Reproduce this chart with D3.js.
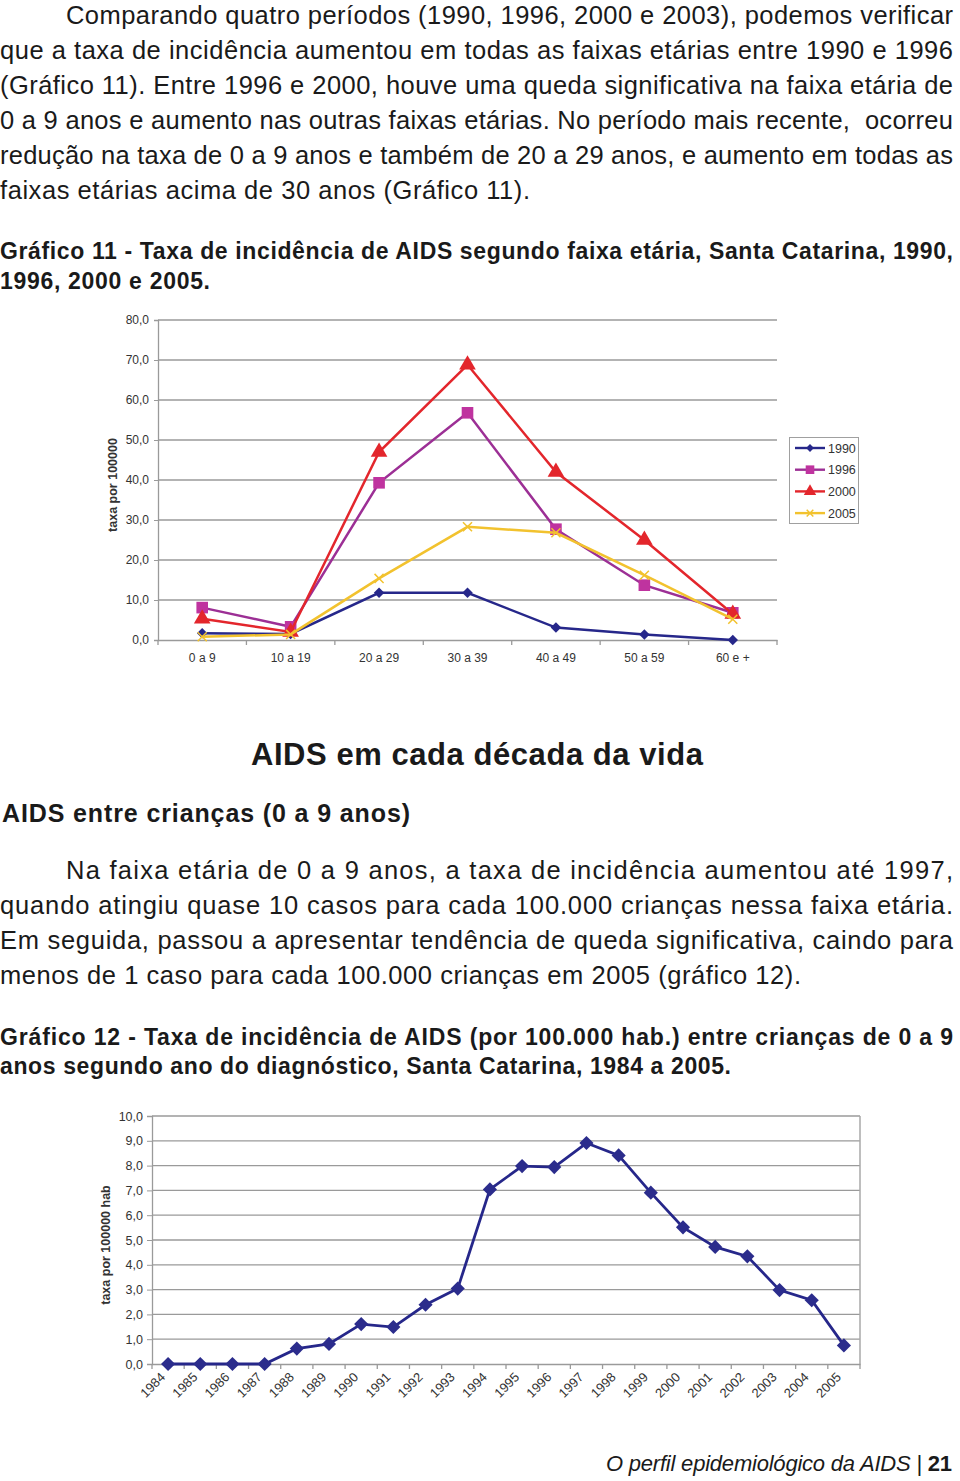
<!DOCTYPE html>
<html>
<head>
<meta charset="utf-8">
<script src="https://cdn.jsdelivr.net/npm/d3@7"></script>
<style>
  html, body { margin: 0; padding: 0; background: #fff; }
  svg { display: block; }
</style>
</head>
<body>
<svg id="page" width="960" height="1481"></svg>
<script>
// ---------- DATA ----------
const ageGroups = ["0 a 9", "10 a 19", "20 a 29", "30 a 39", "40 a 49", "50 a 59", "60 e +"];
const rate1990 = [1.7, 1.5, 11.8, 11.8, 3.1, 1.4, 0.0];
const rate1996 = [8.1, 3.3, 39.3, 56.8, 27.7, 13.7, 6.8];
const rate2000 = [5.3, 2.0, 47.0, 68.8, 42.0, 25.0, 6.5];
const rate2005 = [0.8, 1.4, 15.4, 28.3, 26.8, 16.2, 5.2];
const seriesNames = ["1990", "1996", "2000", "2005"];
const yTicks1 = [0, 10, 20, 30, 40, 50, 60, 70, 80];

const years = ["1984","1985","1986","1987","1988","1989","1990","1991","1992","1993","1994",
               "1995","1996","1997","1998","1999","2000","2001","2002","2003","2004","2005"];
const childRate = [0, 0, 0, 0, 0.62, 0.81, 1.61, 1.49, 2.39, 3.04, 7.04,
                   7.98, 7.94, 8.91, 8.41, 6.91, 5.51, 4.72, 4.34, 2.98, 2.57, 0.75];
const yTicks2 = [0, 1, 2, 3, 4, 5, 6, 7, 8, 9, 10];

// ---------- TEXT ----------
const para1 = [
  "Comparando quatro períodos (1990, 1996, 2000 e 2003), podemos verificar",
  "que a taxa de incidência aumentou em todas as faixas etárias entre 1990 e 1996",
  "(Gráfico 11). Entre 1996 e 2000, houve uma queda significativa na faixa etária de",
  "0 a 9 anos e aumento nas outras faixas etárias. No período mais recente,  ocorreu",
  "redução na taxa de 0 a 9 anos e também de 20 a 29 anos, e aumento em todas as",
  "faixas etárias acima de 30 anos (Gráfico 11)."
];
const caption1 = [
  "Gráfico 11 - Taxa de incidência de AIDS segundo faixa etária, Santa Catarina, 1990,",
  "1996, 2000 e 2005."
];
const heading = "AIDS em cada década da vida";
const subheading = "AIDS entre crianças (0 a 9 anos)";
const para2 = [
  "Na faixa etária de 0 a 9 anos, a taxa de incidência aumentou até 1997,",
  "quando atingiu quase 10 casos para cada 100.000 crianças nessa faixa etária.",
  "Em seguida, passou a apresentar tendência de queda significativa, caindo para",
  "menos de 1 caso para cada 100.000 crianças em 2005 (gráfico 12)."
];
const caption2 = [
  "Gráfico 12 - Taxa de incidência de AIDS (por 100.000 hab.) entre crianças de 0 a 9",
  "anos segundo ano do diagnóstico, Santa Catarina, 1984 a 2005."
];

const svg = d3.select("#page");
const FONT = "'Liberation Sans', Arial, Helvetica, sans-serif";
const TXT = "#1a1a1a";

function line(text, x, y, len, size, weight, style) {
  const t = svg.append("text")
    .attr("x", x).attr("y", y)
    .attr("font-family", FONT)
    .attr("font-size", size)
    .attr("font-weight", weight || "normal")
    .attr("font-style", style || "normal")
    .attr("fill", TXT)
    .style("white-space", "pre")
    .text(text);
  if (len) t.attr("textLength", len).attr("lengthAdjust", "spacing");
  return t;
}

// Paragraph 1
const p1x = [66, 0, 0, 0, 0, 0];
const p1w = [887, 953, 953, 953, 953, 530];
para1.forEach((s, i) => line(s, p1x[i], 24 + i * 35, p1w[i], 25.5));
// Caption 1
line(caption1[0], 0, 259, 953, 23, "bold");
line(caption1[1], 0, 289, 210, 23, "bold");

// Heading / subheading
line(heading, 251, 765, 452, 31, "bold");
line(subheading, 2, 822, 408, 25, "bold");

// Paragraph 2
const p2x = [66, 0, 0, 0];
const p2w = [887, 953, 953, 801];
para2.forEach((s, i) => line(s, p2x[i], 879 + i * 35, p2w[i], 25.5));
// Caption 2
line(caption2[0], 0, 1045, 953, 23, "bold");
line(caption2[1], 0, 1074, 731, 23, "bold");

// Footer
const foot = svg.append("text")
  .attr("x", 606).attr("y", 1471)
  .attr("font-family", FONT).attr("font-size", 22).attr("fill", TXT)
  .attr("textLength", 346).attr("lengthAdjust", "spacing");
foot.append("tspan").attr("font-style", "italic").text("O perfil epidemiológico da AIDS | ");
foot.append("tspan").attr("font-weight", "bold").text("21");

// ---------- CHART 1 ----------
const GRID = "#9a9a9a";
const AXIS_TXT = "#333";
const c1 = svg.append("g");
const x1 = d3.scaleBand().domain(ageGroups).range([158, 777]);
const y1 = d3.scaleLinear().domain([0, 80]).range([640, 320]);

c1.append("g").selectAll("line").data(yTicks1.filter(d => d > 0)).join("line")
  .attr("x1", 158).attr("x2", 777)
  .attr("y1", d => y1(d)).attr("y2", d => y1(d))
  .attr("stroke", GRID).attr("stroke-width", 1.3);

const ya1 = c1.append("g").attr("transform", "translate(158,0)")
  .call(d3.axisLeft(y1).tickValues(yTicks1).tickSize(4).tickPadding(5)
    .tickFormat(d => d3.format(".1f")(d).replace(".", ",")));
ya1.select(".domain").attr("stroke", GRID).attr("stroke-width", 1.3);
ya1.selectAll(".tick line").attr("stroke", GRID);
ya1.selectAll("text").attr("font-family", FONT).attr("font-size", 12).attr("fill", AXIS_TXT);

const xa1 = c1.append("g").attr("transform", "translate(0,640)")
  .call(d3.axisBottom(x1).tickSize(0).tickPadding(13));
xa1.select(".domain").attr("stroke", GRID).attr("stroke-width", 1.3);
xa1.selectAll("text").attr("font-family", FONT).attr("font-size", 12).attr("fill", AXIS_TXT);
c1.append("g").selectAll("line").data(ageGroups.concat(["__end"])).join("line")
  .attr("x1", (d, i) => i < ageGroups.length ? x1(d) : x1.range()[1])
  .attr("x2", (d, i) => i < ageGroups.length ? x1(d) : x1.range()[1])
  .attr("y1", 640).attr("y2", 645)
  .attr("stroke", GRID).attr("stroke-width", 1.3);

c1.append("text")
  .attr("transform", "translate(117,485) rotate(-90)")
  .attr("text-anchor", "middle")
  .attr("font-family", FONT).attr("font-size", 12.5).attr("font-weight", "bold").attr("fill", AXIS_TXT)
  .text("taxa por 100000");

const seriesData = [rate1990, rate1996, rate2000, rate2005];
const lineColors = ["#26278a", "#9c2f95", "#e3262c", "#f2c22e"];
const markColors = ["#26278a", "#bf339f", "#e3262c", "#f2c22e"];
const shapes = [d3.symbolSquare, d3.symbolSquare, d3.symbolTriangle, d3.symbolX];
const sizes = [55, 135, 120, 55];
const rot = [45, 0, 0, 0];

const cx1 = d => x1(d) + x1.bandwidth() / 2;
const lineGen1 = d3.line().x((d, i) => cx1(ageGroups[i])).y(d => y1(d));

function drawMarker(g, shapeIdx, x, y, scale) {
  const sym = d3.symbol().type(shapes[shapeIdx]).size(sizes[shapeIdx] * (scale || 1));
  const p = g.append("path").attr("d", sym())
    .attr("transform", `translate(${x},${y}) rotate(${rot[shapeIdx]})`);
  if (shapeIdx === 3) {
    p.attr("fill", "none").attr("stroke", markColors[3]).attr("stroke-width", 1.5);
  } else {
    p.attr("fill", markColors[shapeIdx]);
  }
  return p;
}

seriesData.forEach((vals, s) => {
  const g = c1.append("g");
  g.append("path").datum(vals).attr("d", lineGen1)
    .attr("fill", "none").attr("stroke", lineColors[s]).attr("stroke-width", 2.5);
  vals.forEach((v, i) => drawMarker(g, s, cx1(ageGroups[i]), y1(v)));
});

// legend
const lg = c1.append("g");
lg.append("rect").attr("x", 789.5).attr("y", 437.5).attr("width", 69).attr("height", 86)
  .attr("fill", "#fff").attr("stroke", "#a0a0a0").attr("stroke-width", 1);
seriesNames.forEach((n, i) => {
  const yy = 448 + i * 21.7;
  lg.append("line").attr("x1", 795).attr("x2", 825).attr("y1", yy).attr("y2", yy)
    .attr("stroke", lineColors[i]).attr("stroke-width", 2.4);
  drawMarker(lg, i, 810, yy, 0.55);
  lg.append("text").attr("x", 828).attr("y", yy + 4.5)
    .attr("font-family", FONT).attr("font-size", 12.5).attr("fill", AXIS_TXT).text(n);
});

// ---------- CHART 2 ----------
const c2 = svg.append("g");
const x2 = d3.scaleBand().domain(years).range([152, 860]);
const y2 = d3.scaleLinear().domain([0, 10]).range([1364, 1116]);

c2.append("g").selectAll("line").data(yTicks2.filter(d => d > 0)).join("line")
  .attr("x1", 152).attr("x2", 860)
  .attr("y1", d => y2(d)).attr("y2", d => y2(d))
  .attr("stroke", GRID).attr("stroke-width", 1.3);
c2.append("line").attr("x1", 860).attr("x2", 860).attr("y1", 1116).attr("y2", 1364)
  .attr("stroke", "#a8a8a8").attr("stroke-width", 1.5);

const ya2 = c2.append("g").attr("transform", "translate(152,0)")
  .call(d3.axisLeft(y2).tickValues(yTicks2).tickSize(5).tickPadding(4)
    .tickFormat(d => d3.format(".1f")(d).replace(".", ",")));
ya2.select(".domain").attr("stroke", GRID).attr("stroke-width", 1.3);
ya2.selectAll(".tick line").attr("stroke", GRID);
ya2.selectAll("text").attr("font-family", FONT).attr("font-size", 12.5).attr("fill", AXIS_TXT);

const xa2 = c2.append("g").attr("transform", "translate(0,1364)")
  .call(d3.axisBottom(x2).tickSize(0).tickFormat(""));
xa2.select(".domain").attr("stroke", GRID).attr("stroke-width", 1.3);
c2.append("g").selectAll("line").data(years.concat(["__end"])).join("line")
  .attr("x1", (d, i) => i < years.length ? x2(d) : x2.range()[1])
  .attr("x2", (d, i) => i < years.length ? x2(d) : x2.range()[1])
  .attr("y1", 1364).attr("y2", 1369)
  .attr("stroke", GRID).attr("stroke-width", 1.3);

const cx2 = d => x2(d) + x2.bandwidth() / 2;
c2.append("g").selectAll("text").data(years).join("text")
  .attr("transform", d => `translate(${cx2(d) - 2},${1378}) rotate(-45)`)
  .attr("text-anchor", "end")
  .attr("font-family", FONT).attr("font-size", 13).attr("fill", AXIS_TXT)
  .text(d => d);

c2.append("text")
  .attr("transform", "translate(110,1245) rotate(-90)")
  .attr("text-anchor", "middle")
  .attr("font-family", FONT).attr("font-size", 12.5).attr("font-weight", "bold").attr("fill", AXIS_TXT)
  .text("taxa por 100000 hab");

const lineGen2 = d3.line().x((d, i) => cx2(years[i])).y(d => y2(d));
c2.append("path").datum(childRate).attr("d", lineGen2)
  .attr("fill", "none").attr("stroke", "#26278a").attr("stroke-width", 2.8);
c2.append("g").selectAll("path").data(childRate).join("path")
  .attr("d", d3.symbol().type(d3.symbolSquare).size(100)())
  .attr("transform", (d, i) => `translate(${cx2(years[i])},${y2(d)}) rotate(45)`)
  .attr("fill", "#2b2c8c");
</script>
</body>
</html>
